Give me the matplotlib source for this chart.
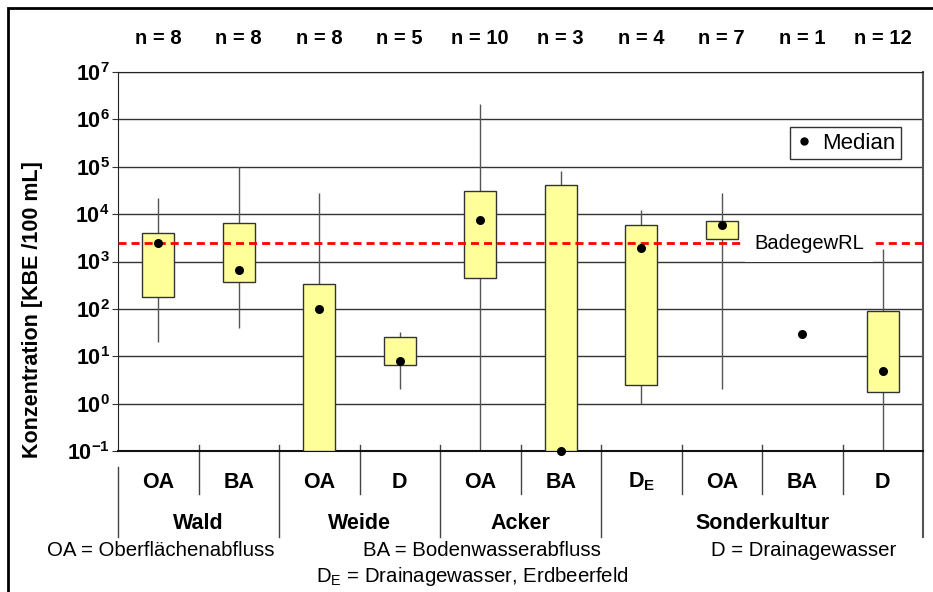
import numpy as np
import matplotlib.pyplot as plt
from matplotlib.lines import Line2D
from matplotlib.patches import Rectangle
from matplotlib.ticker import NullLocator

plt.rcParams['font.family'] = 'Liberation Sans'
plt.rcParams['mathtext.fontset'] = 'custom'
plt.rcParams['mathtext.rm'] = 'Liberation Sans'
plt.rcParams['mathtext.it'] = 'Liberation Sans:italic'
plt.rcParams['mathtext.bf'] = 'Liberation Sans:bold'

# daten (KBE / 100 mL)
categories = ['OA', 'BA', 'OA', 'D', 'OA', 'BA', r'$\mathbf{D_E}$', 'OA', 'BA', 'D']
groups = ['Wald', 'Weide', 'Acker', 'Sonderkultur']
group_sizes = [2, 2, 2, 4]
n_values = [8, 8, 8, 5, 10, 3, 4, 7, 1, 12]
whisker_lo = [20, 40, 0.1, 2, 0.1, 0.1, 1, 2, np.nan, 0.1]
q1 = [175, 370, 0.1, 6.4, 440, 0.1, 2.5, 3000, np.nan, 1.76]
median = [2500, 660, 100, 8, 7500, 0.1, 1900, 5800, 30, 5]
q3 = [3900, 6500, 335, 26, 31000, 42000, 5800, 7000, np.nan, 92]
whisker_hi = [21500, 100000, 28000, 33, 2100000, 83000, 12000, 28000, np.nan, 1800]
badegew = 2400
exponents = np.arange(-1, 8)
footnotes = ['OA = Oberflächenabfluss', 'BA = Bodenwasserabfluss', 'D = Drainagewasser',
             r'D$_\mathrm{E}$ = Drainagewasser, Erdbeerfeld']

W, H = 933, 592
fig = plt.figure(figsize=(W/100, H/100), dpi=100)
ax = fig.add_axes([118/W, 1-451/H, (923-118)/W, (451-72)/H])
ax.set_yscale('log')
ax.set_ylim(0.1, 1e7)
ax.set_xlim(-0.5, 9.5)
x = np.arange(len(categories))

# gitter + achsen
ax.set_yticks(10.0**exponents)
ax.yaxis.set_minor_locator(NullLocator())
ax.set_yticklabels([r'$\mathbf{10^{%d}}$' % e for e in exponents])
ax.tick_params(axis='y', direction='out', length=4, color='#333', labelsize=15.5, pad=2)
ax.set_xticks([])
ax.yaxis.grid(True, color='#333', lw=1)
ax.set_axisbelow(True)
ax.spines['top'].set_color('#222')
ax.spines['right'].set_color('#555')
ax.spines['right'].set_linewidth(1.5)
ax.spines['left'].set_color('#222')
ax.spines['bottom'].set_color('#111')
ax.spines['bottom'].set_linewidth(1.5)

q1 = np.array(q1)
q3 = np.array(q3)
ax.vlines(x, whisker_lo, whisker_hi, color='#555', lw=1, zorder=2)
ax.bar(x, q3-q1, bottom=q1, width=0.4, color='#FFFF99', edgecolor='#333', lw=1, zorder=3)
ax.axhline(badegew, color='red', ls=(0, (2.9, 1.8)), lw=2, zorder=4)
ax.text(7.4, badegew, 'BadegewRL', fontsize=14.5, ha='left', va='center', zorder=4.5,
        bbox=dict(fc='white', ec='none', boxstyle='square,pad=0.45'))
ax.scatter(x, median, s=30, color='black', zorder=5, clip_on=False)

leg = ax.legend(handles=[Line2D([], [], marker='o', ls='', color='black', markersize=5, label='Median')],
                loc='upper right', bbox_to_anchor=(901/W, 1-127/H), bbox_transform=fig.transFigure,
                borderaxespad=0, fancybox=False, edgecolor='#333', fontsize=16,
                handlelength=0.8, handletextpad=0.4, borderpad=0.25, framealpha=1)
leg.get_frame().set_linewidth(1)

# n-werte oben
xt = ax.get_xaxis_transform()
for i, n in enumerate(n_values):
    ax.text(i, 1.0897, 'n = %d' % n, transform=xt, ha='center', va='center',
            fontsize=14.5, fontweight='bold')

# kategorienachse unten
for i, lab in enumerate(categories):
    ax.text(i, -0.0818, lab, transform=xt, ha='center', va='center', fontsize=15.5, fontweight='bold')
bounds = np.cumsum(group_sizes) - 0.5
starts = bounds - np.array(group_sizes)
for b in np.arange(0.5, 9, 1.0):
    if b not in bounds:
        ax.plot([b, b], [0.0158, -0.1135], transform=xt, color='#444', lw=1, clip_on=False)
for b in bounds[:-1]:
    ax.plot([b, b], [0.0158, -0.2269], transform=xt, color='#444', lw=1, clip_on=False)
ax.plot([-0.5, -0.5], [-0.0422, -0.2269], transform=xt, color='#444', lw=1, clip_on=False)
ax.plot([9.5, 9.5], [0, -0.2269], transform=xt, color='#555', lw=1.5, clip_on=False)
for g, s, b in zip(groups, starts, bounds):
    ax.text((s+b)/2, -0.19, g, transform=xt, ha='center', va='center', fontsize=15.5, fontweight='bold')

fig.text(33/W, 1-310/H, 'Konzentration [KBE /100 mL]', rotation=90, ha='center', va='center',
         fontsize=15.5, fontweight='bold')

# legende unten
fig.text(161/W, 1-551/H, footnotes[0], ha='center', va='center', fontsize=14.7)
fig.text(482/W, 1-551/H, footnotes[1], ha='center', va='center', fontsize=14.7)
fig.text(804/W, 1-551/H, footnotes[2], ha='center', va='center', fontsize=14.7)
fig.text(472/W, 1-577/H, footnotes[3], ha='center', va='center', fontsize=14.7)

# rahmen
fig.add_artist(Rectangle((8/W, -0.1), 1.2, 1-8/H+0.1, fill=False, ec='black', lw=2,
                         transform=fig.transFigure))

fig.savefig('out.png', dpi=100)
